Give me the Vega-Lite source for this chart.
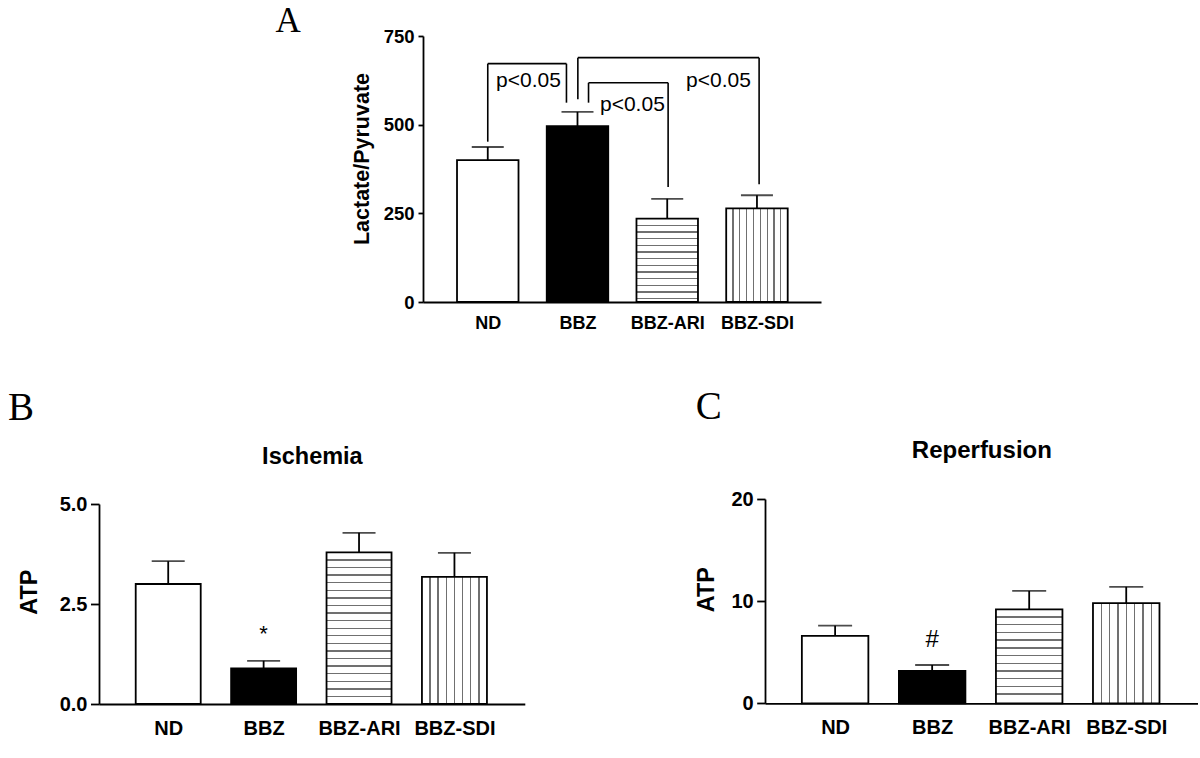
{
  "$schema": "https://vega.github.io/schema/vega-lite/v6.json",
  "background": "white",
  "padding": {"left": 8, "top": 3, "right": 0, "bottom": 0},
  "spacing": 54,
  "datasets": {
    "lp": [
      {"group": "ND", "pos": 1, "value": 400, "err": 437},
      {"group": "BBZ", "pos": 2, "value": 496, "err": 536},
      {"group": "BBZ-ARI", "pos": 3, "value": 235, "err": 291},
      {"group": "BBZ-SDI", "pos": 4, "value": 264, "err": 301}
    ],
    "brackets": [
      {"pos": 1, "pos2": 1, "value": 452, "value2": 672},
      {"pos": 1, "pos2": 1.877, "value": 672, "value2": 672},
      {"pos": 1.877, "pos2": 1.877, "value": 672, "value2": 562},
      {"pos": 2.004, "pos2": 2.004, "value": 572, "value2": 689},
      {"pos": 2.004, "pos2": 4.024, "value": 689, "value2": 689},
      {"pos": 4.024, "pos2": 4.024, "value": 689, "value2": 332},
      {"pos": 2.123, "pos2": 2.123, "value": 562, "value2": 618},
      {"pos": 2.123, "pos2": 3.01, "value": 618, "value2": 618},
      {"pos": 3.01, "pos2": 3.01, "value": 618, "value2": 324}
    ],
    "ptext": [
      {"label": "p<0.05", "pos": 1.453, "value": 607.6},
      {"label": "p<0.05", "pos": 2.612, "value": 538.5},
      {"label": "p<0.05", "pos": 3.571, "value": 607.6}
    ],
    "isch": [
      {"group": "ND", "pos": 1, "value": 3.0, "err": 3.57, "sig": ""},
      {"group": "BBZ", "pos": 2, "value": 0.89, "err": 1.08, "sig": "*"},
      {"group": "BBZ-ARI", "pos": 3, "value": 3.79, "err": 4.28, "sig": ""},
      {"group": "BBZ-SDI", "pos": 4, "value": 3.18, "err": 3.78, "sig": ""}
    ],
    "reper": [
      {"group": "ND", "pos": 1, "value": 6.6, "err": 7.6, "sig": ""},
      {"group": "BBZ", "pos": 2, "value": 3.16, "err": 3.75, "sig": "#"},
      {"group": "BBZ-ARI", "pos": 3, "value": 9.2, "err": 11.0, "sig": ""},
      {"group": "BBZ-SDI", "pos": 4, "value": 9.8, "err": 11.4, "sig": ""}
    ]
  },
  "vconcat": [
    {
      "spacing": 0,
      "hconcat": [
        {"width": 175.5, "height": 1, "data": {"values": []}, "mark": "rect"},
        {
          "width": 398,
          "height": 266,
          "title": {"text": "A", "anchor": "start", "frame": "group", "dx": -147.5, "offset": -39.5, "fontSize": 35, "baseline": "alphabetic"},
          "layer": [
            {
              "data": {"name": "lp"},
              "mark": {"type": "bar", "orient": "vertical", "width": 61.5, "stroke": "black", "strokeWidth": 1.8},
              "encoding": {
                "x": {"field": "pos", "type": "quantitative", "title": null, "scale": {"domain": [0.334, 4.658], "nice": false, "zero": false},
                  "axis": {"values": [1, 2, 3, 4], "labelExpr": "['ND','BBZ','BBZ-ARI','BBZ-SDI'][datum.value-1]", "ticks": false, "tickSize": 0, "labelPadding": 12.5, "labelFontSize": 18, "labelAngle": 0, "labelOverlap": false, "labelFlush": false, "title": null}},
                "y": {"field": "value", "type": "quantitative", "title": "Lactate/Pyruvate", "scale": {"domain": [0, 750], "nice": false},
                  "axis": {"values": [0, 250, 500, 750], "tickSize": 5, "labelFontSize": 18.5, "labelPadding": 4, "labelOverlap": false, "title": "Lactate/Pyruvate", "titleFontSize": 21.5, "titleX": -60.3, "titleY": 122.5, "titleBaseline": "middle", "titleAngle": 270}},
                "fill": {
                  "condition": [
                    {"test": "datum.group === 'ND'", "value": "white"},
                    {"test": "datum.group === 'BBZ'", "value": "black"},
                    {"test": "datum.group === 'BBZ-ARI'", "value": {"gradient": "linear", "x1": 0, "y1": 0, "x2": 0, "y2": 1, "stops": [
                      {"offset": 0, "color": "white"},
                      {"offset": 0.072, "color": "white"}, {"offset": 0.072, "color": "#707070"}, {"offset": 0.088, "color": "#707070"}, {"offset": 0.088, "color": "white"},
                      {"offset": 0.152, "color": "white"}, {"offset": 0.152, "color": "#707070"}, {"offset": 0.168, "color": "#707070"}, {"offset": 0.168, "color": "white"},
                      {"offset": 0.232, "color": "white"}, {"offset": 0.232, "color": "#707070"}, {"offset": 0.248, "color": "#707070"}, {"offset": 0.248, "color": "white"},
                      {"offset": 0.312, "color": "white"}, {"offset": 0.312, "color": "#707070"}, {"offset": 0.328, "color": "#707070"}, {"offset": 0.328, "color": "white"},
                      {"offset": 0.392, "color": "white"}, {"offset": 0.392, "color": "#707070"}, {"offset": 0.408, "color": "#707070"}, {"offset": 0.408, "color": "white"},
                      {"offset": 0.472, "color": "white"}, {"offset": 0.472, "color": "#707070"}, {"offset": 0.488, "color": "#707070"}, {"offset": 0.488, "color": "white"},
                      {"offset": 0.552, "color": "white"}, {"offset": 0.552, "color": "#707070"}, {"offset": 0.568, "color": "#707070"}, {"offset": 0.568, "color": "white"},
                      {"offset": 0.632, "color": "white"}, {"offset": 0.632, "color": "#707070"}, {"offset": 0.648, "color": "#707070"}, {"offset": 0.648, "color": "white"},
                      {"offset": 0.712, "color": "white"}, {"offset": 0.712, "color": "#707070"}, {"offset": 0.728, "color": "#707070"}, {"offset": 0.728, "color": "white"},
                      {"offset": 0.792, "color": "white"}, {"offset": 0.792, "color": "#707070"}, {"offset": 0.808, "color": "#707070"}, {"offset": 0.808, "color": "white"},
                      {"offset": 0.872, "color": "white"}, {"offset": 0.872, "color": "#707070"}, {"offset": 0.888, "color": "#707070"}, {"offset": 0.888, "color": "white"},
                      {"offset": 0.952, "color": "white"}, {"offset": 0.952, "color": "#707070"}, {"offset": 0.968, "color": "#707070"}, {"offset": 0.968, "color": "white"},
                      {"offset": 1, "color": "white"}
                    ]}}
                  ],
                  "value": {"gradient": "linear", "x1": 0, "y1": 0, "x2": 1, "y2": 0, "stops": [
                    {"offset": 0, "color": "white"},
                    {"offset": 0.101, "color": "white"}, {"offset": 0.101, "color": "#707070"}, {"offset": 0.121, "color": "#707070"}, {"offset": 0.121, "color": "white"},
                    {"offset": 0.212, "color": "white"}, {"offset": 0.212, "color": "#707070"}, {"offset": 0.232, "color": "#707070"}, {"offset": 0.232, "color": "white"},
                    {"offset": 0.323, "color": "white"}, {"offset": 0.323, "color": "#707070"}, {"offset": 0.343, "color": "#707070"}, {"offset": 0.343, "color": "white"},
                    {"offset": 0.434, "color": "white"}, {"offset": 0.434, "color": "#707070"}, {"offset": 0.454, "color": "#707070"}, {"offset": 0.454, "color": "white"},
                    {"offset": 0.546, "color": "white"}, {"offset": 0.546, "color": "#707070"}, {"offset": 0.566, "color": "#707070"}, {"offset": 0.566, "color": "white"},
                    {"offset": 0.657, "color": "white"}, {"offset": 0.657, "color": "#707070"}, {"offset": 0.677, "color": "#707070"}, {"offset": 0.677, "color": "white"},
                    {"offset": 0.768, "color": "white"}, {"offset": 0.768, "color": "#707070"}, {"offset": 0.788, "color": "#707070"}, {"offset": 0.788, "color": "white"},
                    {"offset": 0.879, "color": "white"}, {"offset": 0.879, "color": "#707070"}, {"offset": 0.899, "color": "#707070"}, {"offset": 0.899, "color": "white"},
                    {"offset": 1, "color": "white"}
                  ]}
                }
              }
            },
            {
              "data": {"name": "lp"},
              "mark": {"type": "rule", "strokeWidth": 1.8, "color": "black"},
              "encoding": {
                "x": {"field": "pos", "type": "quantitative", "title": null, "scale": {"domain": [0.334, 4.658], "nice": false, "zero": false}},
                "y": {"field": "value", "type": "quantitative", "title": "Lactate/Pyruvate", "scale": {"domain": [0, 750], "nice": false}},
                "y2": {"field": "err"}
              }
            },
            {
              "data": {"name": "lp"},
              "mark": {"type": "tick", "orient": "horizontal", "size": 32, "thickness": 1.8, "color": "black"},
              "encoding": {
                "x": {"field": "pos", "type": "quantitative", "title": null, "scale": {"domain": [0.334, 4.658], "nice": false, "zero": false}},
                "y": {"field": "err", "type": "quantitative", "title": "Lactate/Pyruvate", "scale": {"domain": [0, 750], "nice": false}}
              }
            },
            {
              "data": {"name": "brackets"},
              "mark": {"type": "rule", "strokeWidth": 1.6, "color": "black"},
              "encoding": {
                "x": {"field": "pos", "type": "quantitative", "title": null, "scale": {"domain": [0.334, 4.658], "nice": false, "zero": false}},
                "x2": {"field": "pos2"},
                "y": {"field": "value", "type": "quantitative", "title": "Lactate/Pyruvate", "scale": {"domain": [0, 750], "nice": false}},
                "y2": {"field": "value2"}
              }
            },
            {
              "data": {"name": "ptext"},
              "mark": {"type": "text", "fontSize": 21, "font": "Liberation Sans", "align": "center", "baseline": "alphabetic", "color": "black"},
              "encoding": {
                "x": {"field": "pos", "type": "quantitative", "title": null, "scale": {"domain": [0.334, 4.658], "nice": false, "zero": false}},
                "y": {"field": "value", "type": "quantitative", "title": "Lactate/Pyruvate", "scale": {"domain": [0, 750], "nice": false}},
                "text": {"field": "label"}
              }
            }
          ]
        }
      ]
    },
    {
      "spacing": 169,
      "hconcat": [
        {
          "width": 425.8,
          "height": 200,
          "title": {"text": "B", "anchor": "start", "frame": "group", "dx": -91, "offset": -14.7, "fontSize": 39, "baseline": "alphabetic"},
          "resolve": {"axis": {"x": "independent"}},
          "layer": [
            {
              "data": {"name": "isch"},
              "mark": {"type": "bar", "orient": "vertical", "width": 65, "stroke": "black", "strokeWidth": 1.8},
              "encoding": {
                "x": {"field": "pos", "type": "quantitative", "scale": {"domain": [0.327, 4.685], "nice": false, "zero": false},
                  "axis": {"values": [1, 2, 3, 4], "labelExpr": "['ND','BBZ','BBZ-ARI','BBZ-SDI'][datum.value-1]", "ticks": false, "tickSize": 0, "labelPadding": 14, "labelFontSize": 20, "labelAngle": 0, "labelOverlap": false, "labelFlush": false, "title": null}},
                "y": {"field": "value", "type": "quantitative", "title": "ATP", "scale": {"domain": [0, 5], "nice": false},
                  "axis": {"values": [0, 2.5, 5], "format": ".1f", "tickSize": 8.5, "labelFontSize": 20, "labelPadding": 3.5, "labelOverlap": false, "title": "ATP", "titleFontSize": 23.5, "titleX": -69.3, "titleY": 87.7, "titleBaseline": "middle", "titleAngle": 270}},
                "fill": {
                  "condition": [
                    {"test": "datum.group === 'ND'", "value": "white"},
                    {"test": "datum.group === 'BBZ'", "value": "black"},
                    {"test": "datum.group === 'BBZ-ARI'", "value": {"gradient": "linear", "x1": 0, "y1": 0, "x2": 0, "y2": 1, "stops": [
                      {"offset": 0, "color": "white"},
                      {"offset": 0.0455, "color": "white"}, {"offset": 0.0455, "color": "#707070"}, {"offset": 0.0545, "color": "#707070"}, {"offset": 0.0545, "color": "white"},
                      {"offset": 0.0955, "color": "white"}, {"offset": 0.0955, "color": "#707070"}, {"offset": 0.1045, "color": "#707070"}, {"offset": 0.1045, "color": "white"},
                      {"offset": 0.1455, "color": "white"}, {"offset": 0.1455, "color": "#707070"}, {"offset": 0.1545, "color": "#707070"}, {"offset": 0.1545, "color": "white"},
                      {"offset": 0.1955, "color": "white"}, {"offset": 0.1955, "color": "#707070"}, {"offset": 0.2045, "color": "#707070"}, {"offset": 0.2045, "color": "white"},
                      {"offset": 0.2455, "color": "white"}, {"offset": 0.2455, "color": "#707070"}, {"offset": 0.2545, "color": "#707070"}, {"offset": 0.2545, "color": "white"},
                      {"offset": 0.2955, "color": "white"}, {"offset": 0.2955, "color": "#707070"}, {"offset": 0.3045, "color": "#707070"}, {"offset": 0.3045, "color": "white"},
                      {"offset": 0.3455, "color": "white"}, {"offset": 0.3455, "color": "#707070"}, {"offset": 0.3545, "color": "#707070"}, {"offset": 0.3545, "color": "white"},
                      {"offset": 0.3955, "color": "white"}, {"offset": 0.3955, "color": "#707070"}, {"offset": 0.4045, "color": "#707070"}, {"offset": 0.4045, "color": "white"},
                      {"offset": 0.4455, "color": "white"}, {"offset": 0.4455, "color": "#707070"}, {"offset": 0.4545, "color": "#707070"}, {"offset": 0.4545, "color": "white"},
                      {"offset": 0.4955, "color": "white"}, {"offset": 0.4955, "color": "#707070"}, {"offset": 0.5045, "color": "#707070"}, {"offset": 0.5045, "color": "white"},
                      {"offset": 0.5455, "color": "white"}, {"offset": 0.5455, "color": "#707070"}, {"offset": 0.5545, "color": "#707070"}, {"offset": 0.5545, "color": "white"},
                      {"offset": 0.5955, "color": "white"}, {"offset": 0.5955, "color": "#707070"}, {"offset": 0.6045, "color": "#707070"}, {"offset": 0.6045, "color": "white"},
                      {"offset": 0.6455, "color": "white"}, {"offset": 0.6455, "color": "#707070"}, {"offset": 0.6545, "color": "#707070"}, {"offset": 0.6545, "color": "white"},
                      {"offset": 0.6955, "color": "white"}, {"offset": 0.6955, "color": "#707070"}, {"offset": 0.7045, "color": "#707070"}, {"offset": 0.7045, "color": "white"},
                      {"offset": 0.7455, "color": "white"}, {"offset": 0.7455, "color": "#707070"}, {"offset": 0.7545, "color": "#707070"}, {"offset": 0.7545, "color": "white"},
                      {"offset": 0.7955, "color": "white"}, {"offset": 0.7955, "color": "#707070"}, {"offset": 0.8045, "color": "#707070"}, {"offset": 0.8045, "color": "white"},
                      {"offset": 0.8455, "color": "white"}, {"offset": 0.8455, "color": "#707070"}, {"offset": 0.8545, "color": "#707070"}, {"offset": 0.8545, "color": "white"},
                      {"offset": 0.8955, "color": "white"}, {"offset": 0.8955, "color": "#707070"}, {"offset": 0.9045, "color": "#707070"}, {"offset": 0.9045, "color": "white"},
                      {"offset": 0.9455, "color": "white"}, {"offset": 0.9455, "color": "#707070"}, {"offset": 0.9545, "color": "#707070"}, {"offset": 0.9545, "color": "white"},
                      {"offset": 1, "color": "white"}
                    ]}}
                  ],
                  "value": {"gradient": "linear", "x1": 0, "y1": 0, "x2": 1, "y2": 0, "stops": [
                    {"offset": 0, "color": "white"},
                    {"offset": 0.114, "color": "white"}, {"offset": 0.114, "color": "#707070"}, {"offset": 0.136, "color": "#707070"}, {"offset": 0.136, "color": "white"},
                    {"offset": 0.239, "color": "white"}, {"offset": 0.239, "color": "#707070"}, {"offset": 0.261, "color": "#707070"}, {"offset": 0.261, "color": "white"},
                    {"offset": 0.364, "color": "white"}, {"offset": 0.364, "color": "#707070"}, {"offset": 0.386, "color": "#707070"}, {"offset": 0.386, "color": "white"},
                    {"offset": 0.489, "color": "white"}, {"offset": 0.489, "color": "#707070"}, {"offset": 0.511, "color": "#707070"}, {"offset": 0.511, "color": "white"},
                    {"offset": 0.614, "color": "white"}, {"offset": 0.614, "color": "#707070"}, {"offset": 0.636, "color": "#707070"}, {"offset": 0.636, "color": "white"},
                    {"offset": 0.739, "color": "white"}, {"offset": 0.739, "color": "#707070"}, {"offset": 0.761, "color": "#707070"}, {"offset": 0.761, "color": "white"},
                    {"offset": 0.864, "color": "white"}, {"offset": 0.864, "color": "#707070"}, {"offset": 0.886, "color": "#707070"}, {"offset": 0.886, "color": "white"},
                    {"offset": 1, "color": "white"}
                  ]}
                }
              }
            },
            {
              "data": {"name": "isch"},
              "mark": {"type": "rule", "strokeWidth": 1.8, "color": "black"},
              "encoding": {
                "x": {"field": "pos", "type": "quantitative", "scale": {"domain": [0.327, 4.685], "nice": false, "zero": false},
                  "axis": {"orient": "top", "title": "Ischemia", "domain": false, "ticks": false, "labels": false, "titleFontSize": 23.5, "titleX": 212.9, "titleY": -47.3, "titleBaseline": "middle", "titleAlign": "center"}},
                "y": {"field": "value", "type": "quantitative", "title": "ATP", "scale": {"domain": [0, 5], "nice": false}},
                "y2": {"field": "err"}
              }
            },
            {
              "data": {"name": "isch"},
              "mark": {"type": "tick", "orient": "horizontal", "size": 33, "thickness": 1.8, "color": "black"},
              "encoding": {
                "x": {"field": "pos", "type": "quantitative", "scale": {"domain": [0.327, 4.685], "nice": false, "zero": false}, "axis": null},
                "y": {"field": "err", "type": "quantitative", "title": "ATP", "scale": {"domain": [0, 5], "nice": false}}
              }
            },
            {
              "data": {"name": "isch"},
              "mark": {"type": "text", "fontSize": 22, "font": "Liberation Sans", "align": "center", "baseline": "alphabetic", "dy": -19.4, "color": "black"},
              "encoding": {
                "x": {"field": "pos", "type": "quantitative", "scale": {"domain": [0.327, 4.685], "nice": false, "zero": false}, "axis": null},
                "y": {"field": "err", "type": "quantitative", "title": "ATP", "scale": {"domain": [0, 5], "nice": false}},
                "text": {"field": "sig"}
              }
            }
          ]
        },
        {
          "width": 432.7,
          "height": 199.3,
          "title": {"text": "C", "anchor": "start", "frame": "group", "dx": -69.3, "offset": -18.8, "fontSize": 39, "baseline": "alphabetic"},
          "resolve": {"axis": {"x": "independent"}},
          "layer": [
            {
              "data": {"name": "reper"},
              "mark": {"type": "bar", "orient": "vertical", "width": 66.5, "stroke": "black", "strokeWidth": 1.8},
              "encoding": {
                "x": {"field": "pos", "type": "quantitative", "scale": {"domain": [0.329, 4.685], "nice": false, "zero": false},
                  "axis": {"values": [1, 2, 3, 4], "labelExpr": "['ND','BBZ','BBZ-ARI','BBZ-SDI'][datum.value-1]", "ticks": false, "tickSize": 0, "labelPadding": 14, "labelFontSize": 20, "labelAngle": 0, "labelOverlap": false, "labelFlush": false, "title": null}},
                "y": {"field": "value", "type": "quantitative", "title": "ATP", "scale": {"domain": [0, 20], "range": [199.3, -5], "nice": false},
                  "axis": {"values": [0, 10, 20], "format": "d", "tickSize": 8.3, "labelFontSize": 20, "labelPadding": 3.5, "labelOverlap": false, "title": "ATP", "titleFontSize": 23.5, "titleX": -58.3, "titleY": 85.2, "titleBaseline": "middle", "titleAngle": 270}},
                "fill": {
                  "condition": [
                    {"test": "datum.group === 'ND'", "value": "white"},
                    {"test": "datum.group === 'BBZ'", "value": "black"},
                    {"test": "datum.group === 'BBZ-ARI'", "value": {"gradient": "linear", "x1": 0, "y1": 0, "x2": 0, "y2": 1, "stops": [
                      {"offset": 0, "color": "white"},
                      {"offset": 0.075, "color": "white"}, {"offset": 0.075, "color": "#707070"}, {"offset": 0.089, "color": "#707070"}, {"offset": 0.089, "color": "white"},
                      {"offset": 0.157, "color": "white"}, {"offset": 0.157, "color": "#707070"}, {"offset": 0.171, "color": "#707070"}, {"offset": 0.171, "color": "white"},
                      {"offset": 0.239, "color": "white"}, {"offset": 0.239, "color": "#707070"}, {"offset": 0.253, "color": "#707070"}, {"offset": 0.253, "color": "white"},
                      {"offset": 0.321, "color": "white"}, {"offset": 0.321, "color": "#707070"}, {"offset": 0.335, "color": "#707070"}, {"offset": 0.335, "color": "white"},
                      {"offset": 0.403, "color": "white"}, {"offset": 0.403, "color": "#707070"}, {"offset": 0.417, "color": "#707070"}, {"offset": 0.417, "color": "white"},
                      {"offset": 0.485, "color": "white"}, {"offset": 0.485, "color": "#707070"}, {"offset": 0.499, "color": "#707070"}, {"offset": 0.499, "color": "white"},
                      {"offset": 0.567, "color": "white"}, {"offset": 0.567, "color": "#707070"}, {"offset": 0.581, "color": "#707070"}, {"offset": 0.581, "color": "white"},
                      {"offset": 0.649, "color": "white"}, {"offset": 0.649, "color": "#707070"}, {"offset": 0.663, "color": "#707070"}, {"offset": 0.663, "color": "white"},
                      {"offset": 0.731, "color": "white"}, {"offset": 0.731, "color": "#707070"}, {"offset": 0.745, "color": "#707070"}, {"offset": 0.745, "color": "white"},
                      {"offset": 0.813, "color": "white"}, {"offset": 0.813, "color": "#707070"}, {"offset": 0.827, "color": "#707070"}, {"offset": 0.827, "color": "white"},
                      {"offset": 0.895, "color": "white"}, {"offset": 0.895, "color": "#707070"}, {"offset": 0.909, "color": "#707070"}, {"offset": 0.909, "color": "white"},
                      {"offset": 1, "color": "white"}
                    ]}}
                  ],
                  "value": {"gradient": "linear", "x1": 0, "y1": 0, "x2": 1, "y2": 0, "stops": [
                    {"offset": 0, "color": "white"},
                    {"offset": 0.115, "color": "white"}, {"offset": 0.115, "color": "#707070"}, {"offset": 0.135, "color": "#707070"}, {"offset": 0.135, "color": "white"},
                    {"offset": 0.24, "color": "white"}, {"offset": 0.24, "color": "#707070"}, {"offset": 0.26, "color": "#707070"}, {"offset": 0.26, "color": "white"},
                    {"offset": 0.365, "color": "white"}, {"offset": 0.365, "color": "#707070"}, {"offset": 0.385, "color": "#707070"}, {"offset": 0.385, "color": "white"},
                    {"offset": 0.49, "color": "white"}, {"offset": 0.49, "color": "#707070"}, {"offset": 0.51, "color": "#707070"}, {"offset": 0.51, "color": "white"},
                    {"offset": 0.615, "color": "white"}, {"offset": 0.615, "color": "#707070"}, {"offset": 0.635, "color": "#707070"}, {"offset": 0.635, "color": "white"},
                    {"offset": 0.74, "color": "white"}, {"offset": 0.74, "color": "#707070"}, {"offset": 0.76, "color": "#707070"}, {"offset": 0.76, "color": "white"},
                    {"offset": 0.865, "color": "white"}, {"offset": 0.865, "color": "#707070"}, {"offset": 0.885, "color": "#707070"}, {"offset": 0.885, "color": "white"},
                    {"offset": 1, "color": "white"}
                  ]}
                }
              }
            },
            {
              "data": {"name": "reper"},
              "mark": {"type": "rule", "strokeWidth": 1.8, "color": "black"},
              "encoding": {
                "x": {"field": "pos", "type": "quantitative", "scale": {"domain": [0.329, 4.685], "nice": false, "zero": false},
                  "axis": {"orient": "top", "title": "Reperfusion", "domain": false, "ticks": false, "labels": false, "titleFontSize": 24, "titleX": 216.35, "titleY": -53.3, "titleBaseline": "middle", "titleAlign": "center"}},
                "y": {"field": "value", "type": "quantitative", "title": "ATP", "scale": {"domain": [0, 20], "range": [199.3, -5], "nice": false}},
                "y2": {"field": "err"}
              }
            },
            {
              "data": {"name": "reper"},
              "mark": {"type": "tick", "orient": "horizontal", "size": 34, "thickness": 1.8, "color": "black"},
              "encoding": {
                "x": {"field": "pos", "type": "quantitative", "scale": {"domain": [0.329, 4.685], "nice": false, "zero": false}, "axis": null},
                "y": {"field": "err", "type": "quantitative", "title": "ATP", "scale": {"domain": [0, 20], "range": [199.3, -5], "nice": false}}
              }
            },
            {
              "data": {"name": "reper"},
              "mark": {"type": "text", "fontSize": 24, "font": "Liberation Sans", "align": "center", "baseline": "alphabetic", "dy": -18.3, "color": "black"},
              "encoding": {
                "x": {"field": "pos", "type": "quantitative", "scale": {"domain": [0.329, 4.685], "nice": false, "zero": false}, "axis": null},
                "y": {"field": "err", "type": "quantitative", "title": "ATP", "scale": {"domain": [0, 20], "range": [199.3, -5], "nice": false}},
                "text": {"field": "sig"}
              }
            }
          ]
        }
      ]
    }
  ],
  "config": {
    "view": {"stroke": null},
    "axis": {"domainColor": "black", "domainWidth": 1.8, "tickColor": "black", "tickWidth": 1.8, "labelColor": "black", "labelFont": "Liberation Sans", "labelFontWeight": "bold", "titleColor": "black", "titleFont": "Liberation Sans", "titleFontWeight": "bold", "grid": false},
    "title": {"font": "Liberation Serif", "fontWeight": "normal", "color": "black"}
  }
}
